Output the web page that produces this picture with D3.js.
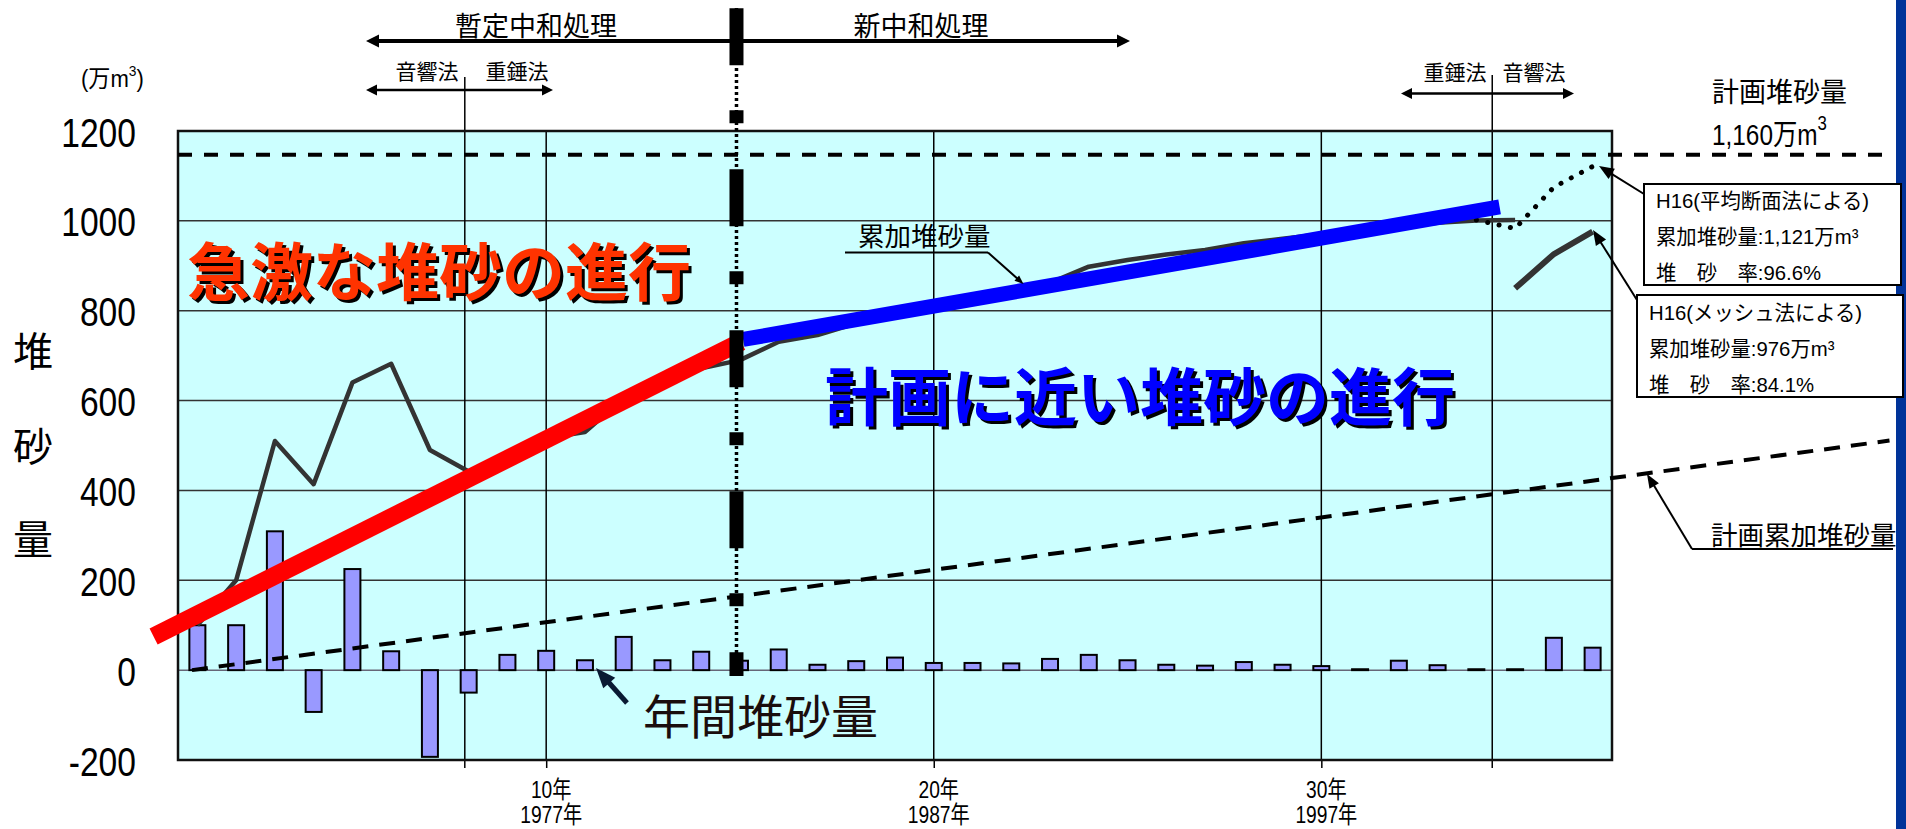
<!DOCTYPE html>
<html lang="ja">
<head>
<meta charset="utf-8">
<script src="https://cdn.jsdelivr.net/npm/d3@7"></script>
<style>
  html, body { margin: 0; padding: 0; background: #fff; }
  svg { display: block; }
  text { font-family: 'Liberation Sans', Arial, 'Noto Sans CJK JP', sans-serif; fill: #000; }
</style>
</head>
<body>
<div id="chart"></div>
<script>
// 経過年 (1年目 = 1968年)
const years = [1, 2, 3, 4, 5, 6, 7, 8, 9, 10, 11, 12, 13, 14, 15, 16, 17, 18, 19, 20,
               21, 22, 23, 24, 25, 26, 27, 28, 29, 30, 31, 32, 33, 34, 35, 36, 37];
// 年間堆砂量 (万m3)
const annual = [100, 100, 309, -93, 225, 42, -193, -50, 34, 43,
                22, 74, 22, 41, 21, 46, 12, 20, 28, 16,
                16, 15, 25, 34, 22, 12, 10, 18, 12, 9,
                2, 21, 11, 2, 2, 72, 50];
// 累加堆砂量 (years 1..35)
const cumulative = [100, 200, 510, 414, 640, 682, 490, 442, 474, 516,
                    530, 605, 630, 672, 690, 731, 746, 772, 795, 812,
                    828, 845, 862, 898, 913, 925, 935, 950, 960, 970,
                    978, 988, 996, 1001, 1002];
// H16 メッシュ法
const meshYears = [35, 36, 37];
const meshValues = [850, 926, 976];
// H16 平均断面法
const avgYears = [34, 35, 36, 37];
const avgValues = [1002, 983, 1075, 1121];
// trend lines (急激 / 計画に近い)
const rapidYears = [-0.13, 15.03];
const rapidValues = [75, 731];
const nearYears = [15.08, 34.6];
const nearValues = [736, 1031];
// 計画累加堆砂量
const planYears = [0.86, 44.66];
const planValues = [0, 511];
// 計画堆砂量 line as drawn
const planLevel = 1147;
const yTicks = [-200, 0, 200, 400, 600, 800, 1000, 1200];
const xTickYears = [10, 20, 30];
const xTickLabels = ["10年", "20年", "30年"];
const xTickCal = ["1977年", "1987年", "1997年"];
const methodChangeYears = [7.9, 34.41];
const treatChangeYear = 14.91;

const width = 1906, height = 829;
const plot = { left: 178, right: 1612, top: 131, bottom: 760 };
const narrow = 0.82;   // squeeze for the Arial Narrow look

const svg = d3.select("#chart").append("svg")
    .attr("width", width)
    .attr("height", height);

svg.append("rect").attr("width", width).attr("height", height).attr("fill", "#fff");
// blue strip at the right edge
svg.append("rect").attr("x", 1896).attr("y", 0).attr("width", 10).attr("height", height).attr("fill", "#003399");

const x = d3.scaleLinear().domain([0.5, 37.5]).range([plot.left, plot.right]);
const y = d3.scaleLinear().domain([-200, 1200]).range([plot.bottom, plot.top]);

// plot background
svg.append("rect")
    .attr("x", plot.left).attr("y", plot.top)
    .attr("width", plot.right - plot.left).attr("height", plot.bottom - plot.top)
    .attr("fill", "#ccffff");

// horizontal grid
svg.append("g")
  .selectAll("line")
  .data(yTicks.filter(d => d > -200 && d < 1200))
  .join("line")
    .attr("x1", plot.left).attr("x2", plot.right)
    .attr("y1", d => y(d)).attr("y2", d => y(d))
    .attr("stroke", d => d === 0 ? "#667" : "#333")
    .attr("stroke-width", 1.5);

// vertical grid + year ticks
svg.append("g")
  .selectAll("line")
  .data(xTickYears)
  .join("line")
    .attr("x1", d => x(d)).attr("x2", d => x(d))
    .attr("y1", plot.top).attr("y2", plot.bottom)
    .attr("stroke", "#000").attr("stroke-width", 1.5);

const xAxis = svg.append("g")
    .attr("transform", `translate(0,${plot.bottom})`)
    .call(d3.axisBottom(x).tickValues(xTickYears).tickSize(8).tickFormat(""));
xAxis.select(".domain").remove();
xAxis.selectAll(".tick text").remove();
xAxis.selectAll(".tick line").attr("stroke", "#000").attr("stroke-width", 1.5);

// helpers
function label(g, tx, ty, str, size, anchor, sx) {
  return g.append("text")
      .attr("transform", `translate(${tx},${ty}) scale(${sx || 1},1)`)
      .attr("text-anchor", anchor || "start")
      .style("font-size", size + "px")
      .text(str);
}
function arrow(g, x1, y1, x2, y2, o) {
  const a = Math.atan2(y2 - y1, x2 - x1);
  const L = o.len, Wd = o.wid / 2;
  g.append("line")
      .attr("x1", x1).attr("y1", y1)
      .attr("x2", x2 - Math.cos(a) * L * 0.8).attr("y2", y2 - Math.sin(a) * L * 0.8)
      .attr("stroke", o.color || "#000").attr("stroke-width", o.sw);
  const bx = x2 - Math.cos(a) * L, by = y2 - Math.sin(a) * L;
  g.append("polygon")
      .attr("points", [[x2, y2], [bx + Math.sin(a) * Wd, by - Math.cos(a) * Wd], [bx - Math.sin(a) * Wd, by + Math.cos(a) * Wd]].join(" "))
      .attr("fill", o.color || "#000");
}

// x tick labels (two rows)
const xLab = svg.append("g");
xTickYears.forEach((d, i) => {
  label(xLab, x(d) + 5, 798, xTickLabels[i], 24, "middle", 0.8);
  label(xLab, x(d) + 5, 823, xTickCal[i], 24, "middle", 0.8);
});

// method change separators (音響法/重錘法)
svg.append("g")
  .selectAll("line")
  .data(methodChangeYears)
  .join("line")
    .attr("x1", d => x(d)).attr("x2", d => x(d))
    .attr("y1", (d, i) => i === 0 ? 77 : 75).attr("y2", plot.bottom + 8)
    .attr("stroke", "#000").attr("stroke-width", 1.5);

// y axis labels
const yAxis = svg.append("g")
    .attr("transform", `translate(${plot.left},0)`)
    .call(d3.axisLeft(y).tickValues(yTicks).tickSize(0).tickFormat(d => String(d)));
yAxis.select(".domain").remove();
yAxis.selectAll("text")
    .attr("x", -42 / narrow)
    .attr("dy", null)
    .attr("y", 15)
    .attr("transform", `scale(${narrow},1)`)
    .attr("fill", "#000")
    .style("font-size", "41px");

// annual bars
const barW = 16;
svg.append("g")
  .selectAll("rect")
  .data(years.map((yr, i) => ({ yr, v: annual[i] })))
  .join("rect")
    .attr("x", d => x(d.yr) - barW / 2)
    .attr("y", d => y(Math.max(0, d.v)))
    .attr("width", barW)
    .attr("height", d => Math.abs(y(d.v) - y(0)))
    .attr("fill", "#9999ff")
    .attr("stroke", "#000")
    .attr("stroke-width", 2);

// frame
svg.append("rect")
    .attr("x", plot.left).attr("y", plot.top)
    .attr("width", plot.right - plot.left).attr("height", plot.bottom - plot.top)
    .attr("fill", "none").attr("stroke", "#111").attr("stroke-width", 2.5);

const line = d3.line().x(d => x(d[0])).y(d => y(d[1]));

// 計画累加堆砂量
svg.append("path")
    .attr("d", line(planYears.map((yr, i) => [yr, planValues[i]])))
    .attr("fill", "none").attr("stroke", "#000")
    .attr("stroke-width", 4).attr("stroke-dasharray", "16,11");

// 計画堆砂量 level
svg.append("line")
    .attr("x1", plot.left).attr("x2", 1884)
    .attr("y1", y(planLevel)).attr("y2", y(planLevel))
    .attr("stroke", "#000").attr("stroke-width", 4).attr("stroke-dasharray", "14,12");

// 累加堆砂量
svg.append("path")
    .attr("d", line(cumulative.map((v, i) => [years[i], v])))
    .attr("fill", "none").attr("stroke", "#333")
    .attr("stroke-width", 4.5).attr("stroke-linejoin", "round");

svg.append("path")
    .attr("d", line(meshYears.map((yr, i) => [yr, meshValues[i]])))
    .attr("fill", "none").attr("stroke", "#333").attr("stroke-width", 6);

svg.append("path")
    .attr("d", line(avgYears.map((yr, i) => [yr, avgValues[i]])))
    .attr("fill", "none").attr("stroke", "#000")
    .attr("stroke-width", 5).attr("stroke-linecap", "round")
    .attr("stroke-dasharray", "0.1,11.5");

// trend lines
svg.append("path")
    .attr("d", line(rapidYears.map((yr, i) => [yr, rapidValues[i]])))
    .attr("fill", "none").attr("stroke", "#ff0000").attr("stroke-width", 18);
svg.append("path")
    .attr("d", line(nearYears.map((yr, i) => [yr, nearValues[i]])))
    .attr("fill", "none").attr("stroke", "#0000ff").attr("stroke-width", 15);

// treatment change line
const tx = x(treatChangeYear);
svg.append("line")
    .attr("x1", tx).attr("x2", tx).attr("y1", 8).attr("y2", 676)
    .attr("stroke", "#000").attr("stroke-width", 3.5).attr("stroke-dasharray", "3,3");
svg.append("line")
    .attr("x1", tx).attr("x2", tx).attr("y1", 8.3).attr("y2", 676)
    .attr("stroke", "#000").attr("stroke-width", 14).attr("stroke-dasharray", "57,45,13,46");

const ann = svg.append("g");

// top arrows
arrow(ann, 750, 41, 366, 41, { len: 13, wid: 13, sw: 4 });
arrow(ann, 740, 41, 1130, 41, { len: 13, wid: 13, sw: 4 });
label(ann, 536, 36, "暫定中和処理", 27, "middle");
label(ann, 921, 36, "新中和処理", 27, "middle");

arrow(ann, 460, 90, 366, 90, { len: 11, wid: 11, sw: 2.5 });
arrow(ann, 460, 90, 553, 90, { len: 11, wid: 11, sw: 2.5 });
label(ann, 427, 78.5, "音響法", 21, "middle");
label(ann, 517, 78.5, "重錘法", 21, "middle");

arrow(ann, 1490, 93.5, 1401, 93.5, { len: 11, wid: 11, sw: 2.5 });
arrow(ann, 1490, 93.5, 1574, 93.5, { len: 11, wid: 11, sw: 2.5 });
label(ann, 1455, 79.5, "重錘法", 21, "middle");
label(ann, 1534, 79.5, "音響法", 21, "middle");

// unit
const unit = label(ann, 81, 87, "", 24, "start", 0.92);
unit.append("tspan").text("(万m");
unit.append("tspan").attr("dy", -11).style("font-size", "15px").text("3");
unit.append("tspan").attr("dy", 11).text(")");

// y title
["堆", "砂", "量"].forEach((c, i) => {
  label(ann, 33, [366, 461, 554][i], c, 40, "middle");
});

// 計画堆砂量
label(ann, 1712, 102, "計画堆砂量", 27);
const pl = label(ann, 1712, 145, "", 29, "start", 0.84);
pl.append("tspan").text("1,160万m");
pl.append("tspan").attr("dy", -15).style("font-size", "20px").text("3");

// boxes
const boxes = [
  { x: 1644, y: 184, w: 257, h: 101, tx: 1656, base: 208,
    lines: ["H16(平均断面法による)", "累加堆砂量:1,121万m³", "堆　砂　率:96.6%"] },
  { x: 1637, y: 295, w: 266, h: 102, tx: 1649, base: 320,
    lines: ["H16(メッシュ法による)", "累加堆砂量:976万m³", "堆　砂　率:84.1%"] }
];
boxes.forEach(b => {
  ann.append("rect").attr("x", b.x).attr("y", b.y).attr("width", b.w).attr("height", b.h)
      .attr("fill", "#fff").attr("stroke", "#000").attr("stroke-width", 2);
  b.lines.forEach((s, i) => label(ann, b.tx, b.base + i * 36, s, 21, "start", 0.97));
});
arrow(ann, 1644, 194, 1599, 166, { len: 15, wid: 12, sw: 2 });
arrow(ann, 1637, 300, 1593, 230, { len: 15, wid: 12, sw: 2 });

// 累加堆砂量 leader
label(ann, 858, 246, "累加堆砂量", 26.5);
ann.append("line").attr("x1", 845).attr("x2", 988).attr("y1", 252.5).attr("y2", 252.5)
    .attr("stroke", "#000").attr("stroke-width", 2);
arrow(ann, 988, 252.5, 1023.5, 284, { len: 9, wid: 7, sw: 2 });

// 計画累加堆砂量 leader
label(ann, 1711, 545, "計画累加堆砂量", 26.5);
ann.append("line").attr("x1", 1692).attr("x2", 1893).attr("y1", 549).attr("y2", 549)
    .attr("stroke", "#000").attr("stroke-width", 2);
arrow(ann, 1692, 549, 1647, 474, { len: 14, wid: 11, sw: 2 });

// 年間堆砂量
label(ann, 643, 734, "年間堆砂量", 47).style("fill", "#1a0d0d");
arrow(ann, 627, 703, 596, 668, { len: 20, wid: 16, sw: 5, color: "#0a1a33" });

// big coloured captions with shadow
function shadowText(tx, ty, str, color) {
  [[3, 3, "#000"], [0, 0, color]].forEach(([dx, dy, c]) => {
    ann.append("text")
        .attr("x", tx + dx).attr("y", ty + dy)
        .style("font-family", "'Noto Sans CJK JP', sans-serif")
        .style("font-weight", 700)
        .style("font-size", "63px")
        .style("fill", c)
        .text(str);
  });
}
shadowText(187, 295, "急激な堆砂の進行", "#ff3300");
shadowText(825, 420, "計画に近い堆砂の進行", "#0000ff");
</script>
</body>
</html>
